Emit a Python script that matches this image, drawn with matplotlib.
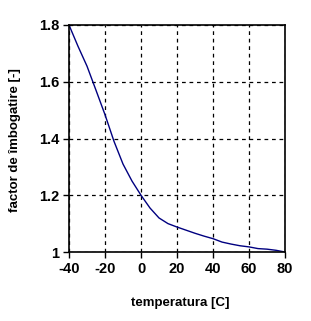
import matplotlib
matplotlib.use("Agg")
import matplotlib.pyplot as plt

# temperature [C] and enrichment factor
temperatura = [-40, -35, -30, -25, -20, -15, -10, -5, 0, 5, 10, 15, 20,
               25, 30, 35, 40, 45, 50, 55, 60, 65, 70, 75, 80]
factor = [1.800, 1.725, 1.655, 1.570, 1.484, 1.390, 1.310, 1.250, 1.200,
          1.155, 1.120, 1.100, 1.088, 1.077, 1.066, 1.056, 1.047, 1.035,
          1.028, 1.022, 1.018, 1.012, 1.010, 1.006, 1.000]

x_ticks = [-40, -20, 0, 20, 40, 60, 80]
y_ticks = [1.0, 1.2, 1.4, 1.6, 1.8]
y_labels = ["1", "1.2", "1.4", "1.6", "1.8"]

plt.rcParams["font.family"] = ["Liberation Sans", "DejaVu Sans"]
plt.rcParams["axes.unicode_minus"] = False

fig = plt.figure(figsize=(3.11, 3.21), dpi=100)
ax = fig.add_axes([69 / 311, 1 - 252 / 321, 216 / 311, 227 / 321])

ax.plot(temperatura, factor, color="#000080", linewidth=1.0)

ax.set_xlim(-40, 80)
ax.set_ylim(1.0, 1.8)
ax.set_xticks(x_ticks)
ax.set_yticks(y_ticks)
ax.set_yticklabels(y_labels)
ax.grid(True, color="black", linestyle=(0, (3, 3)), linewidth=0.9)
ax.tick_params(direction="out", length=4, width=1, color="black",
               labelsize=10.5, pad=3)
for lab in ax.get_xticklabels() + ax.get_yticklabels():
    lab.set_fontweight("bold")
for sp in ax.spines.values():
    sp.set_linewidth(1.2)

fig.text(180 / 311, 1 - 303 / 321, "temperatura [C]", ha="center", va="center",
         fontsize=9.5, fontweight="bold")
fig.text(15 / 311, 1 - 140 / 321, "factor de îmbogatire [-]", ha="center",
         va="center", rotation=90, fontsize=9.5, fontweight="bold")

fig.savefig("out.png", dpi=100)
